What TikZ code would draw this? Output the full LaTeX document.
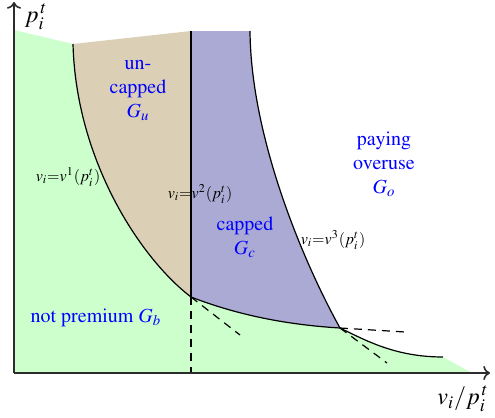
\documentclass[tikz,border=0pt]{standalone}
\usepackage[T1]{fontenc}
\usepackage{mathptmx}
\usepackage{tikz}
\usetikzlibrary{arrows.meta, positioning, calc}
\definecolor{premgreen}{RGB}{204,255,204}
\definecolor{uncaptan}{RGB}{219,208,182}
\definecolor{capblue}{RGB}{170,170,212}
\definecolor{axisgray}{RGB}{45,45,45}

\begin{document}
\begin{tikzpicture}[x=0.5pt, y=-0.5pt, >=To,
    region/.style={text=blue, align=center},
    curvelabel/.style={font=\footnotesize},
    border/.style={line width=0.6pt},
    guide/.style={dash pattern=on 4pt off 3pt, line width=0.6pt}]
    \useasboundingbox (0,0) rectangle (495,418);
    % corners of the regions
    \coordinate (O) at (14,373);
    \coordinate (k1) at (191,297);
    \coordinate (k2) at (340,328);
    \coordinate (ua) at (73,44);
    \coordinate (ub) at (191,31);
    \coordinate (ca) at (250,31);
    \coordinate (tail) at (443,357);
    % regions
    \fill[premgreen] (14,30) -- (ua) .. controls (76,160) and (140,258) .. (k1)
        .. controls (240,316) and (290,325) .. (k2)
        .. controls (365,340) and (395,357) .. (tail) -- (472,373) -- (O) -- cycle;
    \fill[uncaptan] (ua) -- (ub) -- (k1) .. controls (140,258) and (76,160) .. (ua);
    \fill[capblue] (ub) -- (ca) .. controls (251,140) and (305,265) .. (k2)
        .. controls (290,325) and (240,316) .. (k1) -- cycle;
    % boundaries
    \draw[border] (ua) .. controls (76,160) and (140,258) .. (k1);
    \draw[border] (ub) -- (k1);
    \draw[border] (ca) .. controls (251,140) and (305,265) .. (k2);
    \draw[border] (k1) .. controls (240,316) and (290,325) .. (k2)
        .. controls (365,340) and (395,357) .. (tail);
    \draw[guide] (k1) -- (191,373);
    \draw[guide] (k1) -- (240,335);
    \draw[guide] (k2) -- (405,332);
    \draw[guide] (k2) -- (387,363);
    % axes
    \draw[->, axisgray, line width=0.8pt] (O) -- (14,2);
    \draw[->, axisgray, line width=0.8pt] (O) -- (490,373);
    \node[font=\large] (ylab) at (36,17) {$p_i^{\,t}$};
    \node[font=\large] (xlab) at (463,399) {$v_i/p_i^{\,t}$};
    % groups
    \node[region] (gu) at (138,90) {un-\\capped\\$G_u$};
    \node[region] (gc) at (245,237) {capped\\$G_c$};
    \node[region] (go) at (384,164) {paying\\overuse\\$G_o$};
    \node[region] (gb) at (96,318) {not premium $G_b$};
    % thresholds
    \node[curvelabel] (v1) at (68,177) {$v_i{=}v^1(p_i^t)$};
    \node[curvelabel] (v2) at (200,194) {$v_i{=}v^2(p_i^t)$};
    \node[curvelabel] (v3) at (333,240) {$v_i{=}v^3(p_i^t)$};
\end{tikzpicture}
\end{document}
